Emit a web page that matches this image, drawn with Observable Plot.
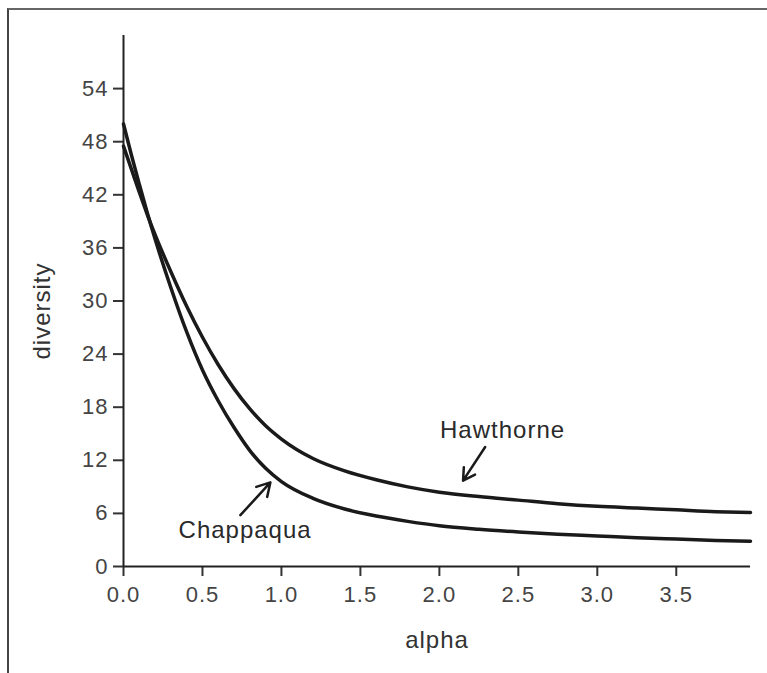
<!DOCTYPE html>
<html>
<head>
<meta charset="utf-8">
<script src="https://cdn.jsdelivr.net/npm/d3@7"></script>
<script src="https://cdn.jsdelivr.net/npm/@observablehq/plot@0.6"></script>
<style>
  html, body { margin: 0; padding: 0; background: #fff; }
  #frame { position: absolute; left: 7px; top: 8px; width: 770px; height: 680px;
           border-top: 2px solid #666; border-left: 2px solid #444; }
  #chart { position: absolute; left: 0; top: 0; }
</style>
</head>
<body>
<div id="frame"></div>
<div id="chart"></div>
<script>
// ---- data ----
const alpha = [0, 0.05, 0.1, 0.15, 0.2, 0.3, 0.4, 0.5, 0.6, 0.7, 0.8, 0.9, 1.0,
               1.2, 1.4, 1.6, 1.8, 2.0, 2.25, 2.5, 2.75, 3.0, 3.25, 3.5, 3.75, 3.97];
const chappaqua = [50, 46.5, 43.2, 40.0, 37.0, 31.5, 26.5, 22.2, 18.7, 15.7, 13.1, 11.1, 9.6,
                   7.7, 6.5, 5.7, 5.1, 4.6, 4.2, 3.9, 3.65, 3.45, 3.25, 3.1, 2.95, 2.85];
const hawthorne = [47.5, 44.9, 42.3, 39.8, 37.5, 33.3, 29.4, 25.9, 22.8, 20.1, 17.8, 15.9, 14.4,
                   12.2, 10.8, 9.8, 9.0, 8.4, 7.9, 7.5, 7.1, 6.8, 6.6, 6.4, 6.2, 6.1];
const seriesNames = ["Chappaqua", "Hawthorne"];
const xTicks = [0, 0.5, 1.0, 1.5, 2.0, 2.5, 3.0, 3.5];
const yTicks = [0, 6, 12, 18, 24, 30, 36, 42, 48, 54];
const xDomain = [0, 3.97];
const yDomain = [0, 60];
// annotation labels and arrows (data units)
const labelNames = ["Chappaqua", "Hawthorne"];
const labelX = [0.77, 2.40];
const labelY = [4.1, 15.4];
const arrowX1 = [0.74, 2.29];
const arrowY1 = [5.8, 13.5];
const arrowX2 = [0.93, 2.15];
const arrowY2 = [9.5, 9.7];

const rows = [];
alpha.forEach((a, i) => {
  rows.push({alpha: a, diversity: chappaqua[i], site: seriesNames[0]});
  rows.push({alpha: a, diversity: hawthorne[i], site: seriesNames[1]});
});
const labels = labelNames.map((t, i) => ({text: t, x: labelX[i], y: labelY[i]}));
const arrows = labelNames.map((t, i) => ({x1: arrowX1[i], y1: arrowY1[i], x2: arrowX2[i], y2: arrowY2[i]}));

const plot = Plot.plot({
  width: 767,
  height: 673,
  marginLeft: 123,
  marginRight: 17,
  marginTop: 35,
  marginBottom: 107,
  style: {fontFamily: "'Liberation Sans', Arial, sans-serif", fontSize: "22px", letterSpacing: "1px", background: "transparent", overflow: "visible"},
  x: {domain: xDomain},
  y: {domain: yDomain},
  marks: [
    Plot.axisY({ticks: yTicks, tickSize: 10, tickPadding: 5, label: null, stroke: "#333", strokeWidth: 2, fill: "#444"}),
    Plot.axisX({ticks: xTicks, tickSize: 10, tickPadding: 10, label: null, tickFormat: d => d.toFixed(1), stroke: "#333", strokeWidth: 2, fill: "#444"}),
    Plot.ruleX([0], {stroke: "#222", strokeWidth: 2}),
    Plot.ruleY([0], {stroke: "#222", strokeWidth: 2}),
    Plot.text(["diversity"], {frameAnchor: "left", textAnchor: "middle", rotate: -90, dx: -81, dy: 10, fontSize: 24, fill: "#333"}),
    Plot.text(["alpha"], {frameAnchor: "bottom", dy: 81, fontSize: 24, fill: "#333"}),
    Plot.line(rows, {x: "alpha", y: "diversity", z: "site", stroke: "#1a1a1a", strokeWidth: 3.5, curve: "monotone-x"}),
    Plot.arrow(arrows, {x1: "x1", y1: "y1", x2: "x2", y2: "y2", stroke: "#1a1a1a", strokeWidth: 2.5, headLength: 11}),
    Plot.text(labels, {x: "x", y: "y", text: "text", fontSize: 24, fill: "#2a2a2a"})
  ]
});
document.getElementById("chart").appendChild(plot);
</script>
</body>
</html>
